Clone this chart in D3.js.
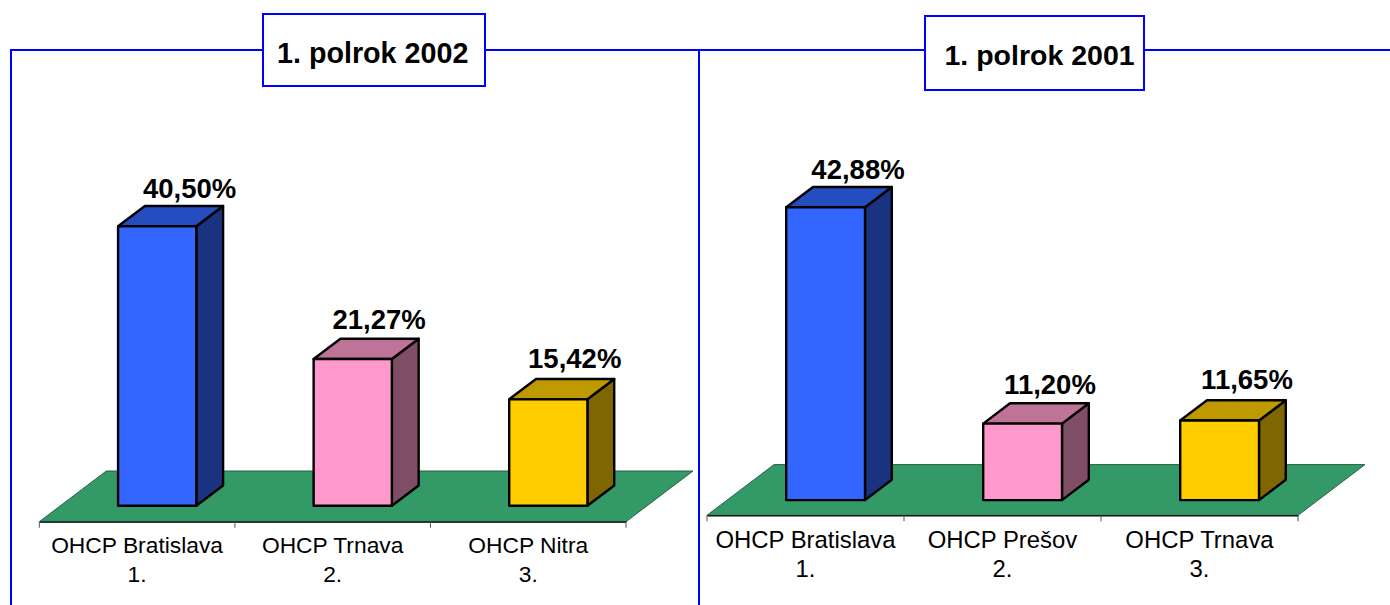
<!DOCTYPE html>
<html lang="en">
<head>
    <meta charset="UTF-8">
    <title>OHCP polrok 2002 / 2001</title>
    <script src="https://cdn.jsdelivr.net/npm/d3@7"></script>
    <style>
        html, body { margin: 0; padding: 0; background: #fff; }
        svg { display: block; }
        text { font-family: "Liberation Sans", Arial, sans-serif; fill: #000; }
    </style>
</head>
<body>
    <div id="chart-space"></div>

    <script>
        var categories2002 = ["OHCP Bratislava", "OHCP Trnava", "OHCP Nitra"];
        var values2002 = [40.50, 21.27, 15.42];
        var categories2001 = ["OHCP Bratislava", "OHCP Prešov", "OHCP Trnava"];
        var values2001 = [42.88, 11.20, 11.65];
        var ranks = ["1.", "2.", "3."];

        var width = 1390;
        var height = 605;

        var frameBlue = "#0000ff";
        var faceColors = ["#3366ff", "#ff99cc", "#ffcc00"];
        var topColors = ["#264dbf", "#bf7399", "#bf9900"];
        var sideColors = ["#1a3380", "#804d66", "#806600"];

        var svg = d3.select("#chart-space")
            .append("svg")
            .attr("width", width)
            .attr("height", height);

        // frame lines first, title boxes go on top of them
        svg.append("path")
            .attr("d", "M11,605V50H1390M699,50V605")
            .attr("fill", "none")
            .attr("stroke", frameBlue)
            .attr("stroke-width", 2);

        drawPanel({
            title: "1. polrok 2002", categories: categories2002, values: values2002,
            x0: 39.3, x1: 626, floorY: 521.7, depthX: 67, depthY: 50.7, pxPerUnit: 6.9, baseFrac: 0.315,
            box: [263, 14, 222, 72], titleX: 277, titleY: 62.7, titleSize: 28.7,
            labelSize: 22.8, labelY: 553, rankY: 581.7,
            nudgeX: [19, 13, 13], nudgeY: [-8, -10, -11]
        });

        drawPanel({
            title: "1. polrok 2001", categories: categories2001, values: values2001,
            x0: 707, x1: 1298, floorY: 515.3, depthX: 67, depthY: 50.7, pxPerUnit: 6.83, baseFrac: 0.3,
            box: [925, 16, 219, 74], titleX: 944.5, titleY: 65, titleSize: 28.5,
            labelSize: 23.9, labelY: 548, rankY: 577,
            nudgeX: [19, 14, 14], nudgeY: [-7.5, -9, -11]
        });

        function drawPanel(p) {
            var g = svg.append("g");

            var xScale = d3.scaleBand()
                .domain(p.categories)
                .range([p.x0, p.x1]);

            // y(0) is where the bars stand, about 0.3 of the way back on the floor
            var baseY = p.floorY - p.depthY * p.baseFrac;
            var yScale = d3.scaleLinear()
                .domain([0, 50])
                .range([baseY, baseY - 50 * p.pxPerUnit]);

            var barWidth = xScale.bandwidth() * 0.4;
            var barDx = p.depthX * 0.4;
            var barDy = p.depthY * 0.4;
            var shiftX = p.depthX * 0.3;

            // floor
            g.append("path")
                .attr("d", "M" + p.x0 + "," + p.floorY
                    + "L" + (p.x0 + p.depthX) + "," + (p.floorY - p.depthY)
                    + "L" + (p.x1 + p.depthX) + "," + (p.floorY - p.depthY)
                    + "L" + p.x1 + "," + p.floorY + "Z")
                .attr("fill", "#339966")
                .attr("stroke", "#2b5f48")
                .attr("stroke-width", 1);

            // category axis along the front of the floor
            var xAxis = g.append("g")
                .attr("transform", "translate(0," + p.floorY + ")")
                .call(d3.axisBottom(xScale).tickSize(0).tickFormat(""));
            xAxis.select(".domain").attr("stroke", "#000").attr("stroke-width", 1.2);
            xAxis.selectAll(".tick").remove();

            var tickEdges = p.categories.map(function(d) { return xScale(d); }).concat([p.x1]);
            g.selectAll(".edge-tick")
                .data(tickEdges)
                .join("line")
                .attr("class", "edge-tick")
                .attr("x1", function(d) { return d; })
                .attr("x2", function(d) { return d; })
                .attr("y1", p.floorY)
                .attr("y2", p.floorY + 6)
                .attr("stroke", "#555")
                .attr("stroke-width", 1);

            var bars = g.selectAll(".bar")
                .data(p.values)
                .join("g")
                .attr("class", "bar")
                .attr("stroke", "#000")
                .attr("stroke-width", 2.4)
                .attr("stroke-linejoin", "round");

            function left(i) {
                return xScale(p.categories[i]) + xScale.bandwidth() * 0.3 + shiftX;
            }

            bars.append("path")
                .attr("fill", function(d, i) { return sideColors[i]; })
                .attr("d", function(d, i) {
                    var r = left(i) + barWidth;
                    return "M" + r + "," + yScale(d) + "l" + barDx + "," + (-barDy)
                        + "V" + (baseY - barDy) + "L" + r + "," + baseY + "Z";
                });

            bars.append("path")
                .attr("fill", function(d, i) { return topColors[i]; })
                .attr("d", function(d, i) {
                    return "M" + left(i) + "," + yScale(d) + "l" + barDx + "," + (-barDy)
                        + "h" + barWidth + "l" + (-barDx) + "," + barDy + "Z";
                });

            bars.append("rect")
                .attr("fill", function(d, i) { return faceColors[i]; })
                .attr("x", function(d, i) { return left(i); })
                .attr("y", function(d) { return yScale(d); })
                .attr("width", barWidth)
                .attr("height", function(d) { return baseY - yScale(d); });

            // value labels
            g.selectAll(".value")
                .data(p.values)
                .join("text")
                .attr("class", "value")
                .attr("text-anchor", "middle")
                .attr("font-weight", "bold")
                .attr("font-size", 27.5)
                .attr("x", function(d, i) { return left(i) + barWidth / 2 + barDx / 2 + p.nudgeX[i]; })
                .attr("y", function(d, i) { return yScale(d) - barDy + p.nudgeY[i]; })
                .text(function(d) { return d3.format(".2f")(d).replace(".", ",") + "%"; });

            // two line category labels
            var labels = g.selectAll(".cat")
                .data(p.categories)
                .join("text")
                .attr("class", "cat")
                .attr("text-anchor", "middle")
                .attr("font-size", p.labelSize);

            labels.append("tspan")
                .attr("x", function(d) { return xScale(d) + xScale.bandwidth() / 2; })
                .attr("y", p.labelY)
                .text(function(d) { return d; });

            labels.append("tspan")
                .attr("x", function(d) { return xScale(d) + xScale.bandwidth() / 2; })
                .attr("y", p.rankY)
                .text(function(d, i) { return ranks[i]; });

            // title box
            g.append("rect")
                .attr("x", p.box[0])
                .attr("y", p.box[1])
                .attr("width", p.box[2])
                .attr("height", p.box[3])
                .attr("fill", "#fff")
                .attr("stroke", frameBlue)
                .attr("stroke-width", 2);

            g.append("text")
                .attr("x", p.titleX)
                .attr("y", p.titleY)
                .attr("font-weight", "bold")
                .attr("font-size", p.titleSize)
                .text(p.title);
        }
    </script>
</body>
</html>
